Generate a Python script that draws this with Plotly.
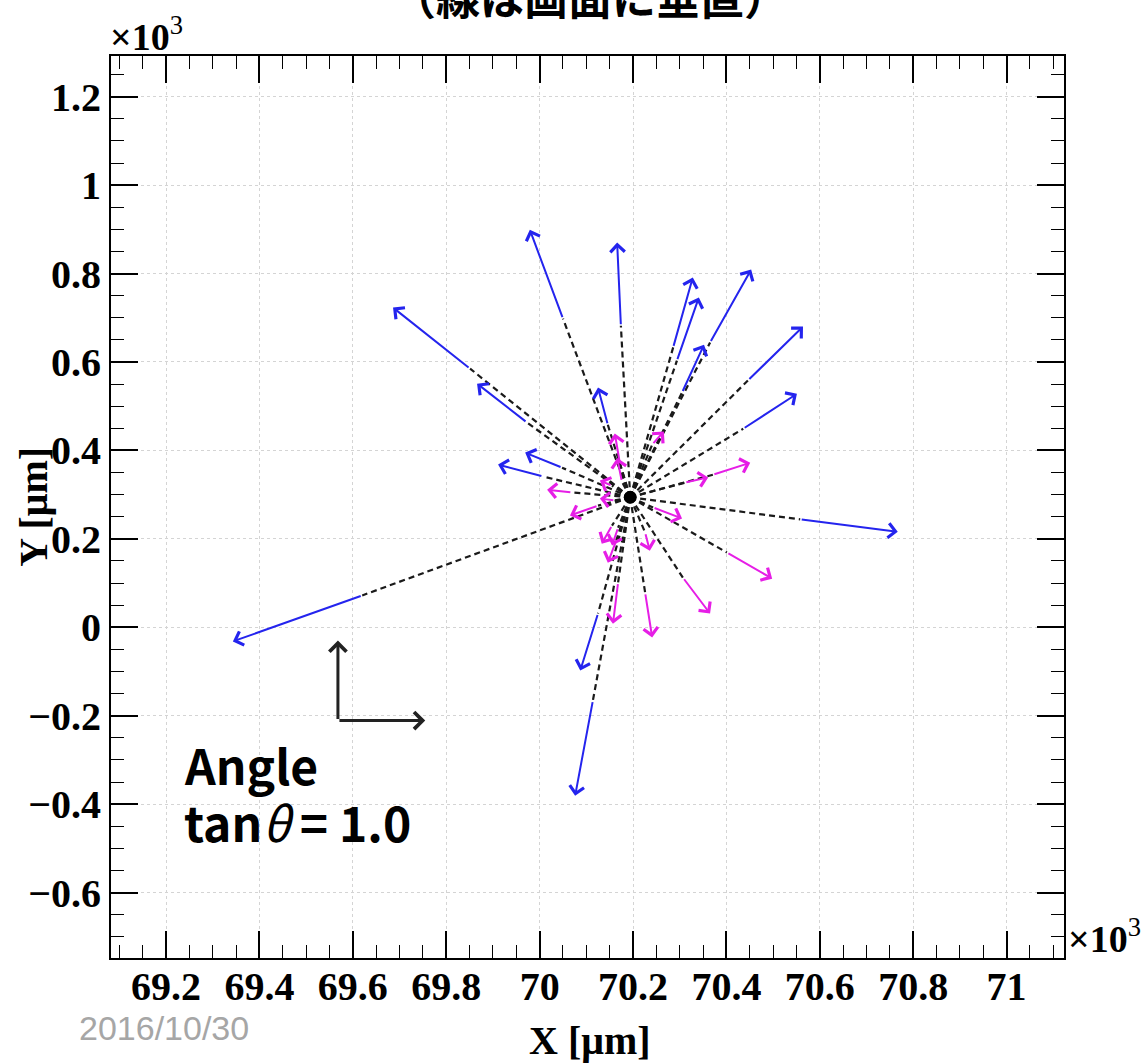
import plotly.graph_objects as go

# ---------------- data (units of 10^3 um) ----------------
vertex_x = 70.194
vertex_y = 0.294

# blue tracks: start of solid segment -> arrow tip
blue_x0 = [69.851, 69.973, 70.050, 70.174, 70.146, 70.286, 70.294, 70.305, 70.365,
           70.446, 70.436, 70.007, 70.048, 69.620, 70.125, 70.114, 70.558]
blue_y0 = [0.585, 0.463, 0.698, 0.682, 0.458, 0.633, 0.603, 0.531, 0.644,
           0.558, 0.449, 0.341, 0.361, 0.072, 0.031, -0.166, 0.244]
blue_x1 = [69.686, 69.866, 69.979, 70.166, 70.125, 70.328, 70.341, 70.352, 70.453,
           70.564, 70.551, 69.911, 69.969, 69.343, 70.087, 70.076, 70.767]
blue_y1 = [0.723, 0.551, 0.899, 0.870, 0.542, 0.791, 0.746, 0.639, 0.809,
           0.680, 0.528, 0.368, 0.395, -0.032, -0.098, -0.381, 0.216]

# magenta tracks
mag_x0 = [70.172, 70.176, 70.241, 70.311, 70.371, 70.069, 70.125, 70.155, 70.161,
          70.155, 70.168, 70.164, 70.168, 70.226, 70.226, 70.243, 70.307, 70.401]
mag_y0 = [0.370, 0.330, 0.413, 0.327, 0.345, 0.305, 0.275, 0.320, 0.287,
          0.230, 0.225, 0.196, 0.101, 0.078, 0.214, 0.271, 0.112, 0.169]
mag_x1 = [70.161, 70.166, 70.266, 70.361, 70.451, 70.016, 70.065, 70.129, 70.129,
          70.133, 70.155, 70.146, 70.157, 70.241, 70.236, 70.305, 70.365, 70.498]
mag_y1 = [0.438, 0.383, 0.443, 0.339, 0.372, 0.311, 0.253, 0.332, 0.291,
          0.189, 0.185, 0.146, 0.008, -0.023, 0.173, 0.246, 0.031, 0.110]

# reference axes (L-shaped arrows)
ref_x = 69.568
ref_y = -0.211
ref_up_y = -0.030
ref_right_x = 69.755

x_tickvals = [69.2, 69.4, 69.6, 69.8, 70.0, 70.2, 70.4, 70.6, 70.8, 71.0]
x_ticktext = ["69.2", "69.4", "69.6", "69.8", "70", "70.2", "70.4", "70.6", "70.8", "71"]
y_tickvals = [-0.6, -0.4, -0.2, 0.0, 0.2, 0.4, 0.6, 0.8, 1.0, 1.2]
y_ticktext = ["\u22120.6", "\u22120.4", "\u22120.2", "0", "0.2", "0.4", "0.6", "0.8", "1", "1.2"]

x_range = [69.082, 71.123]
y_range = [-0.748, 1.292]

BLUE = "#2424ee"
MAGENTA = "#e61ee6"

fig = go.Figure()

# dashed lines from vertex to the start of each track
dx, dy = [], []
for x0, y0 in list(zip(blue_x0, blue_y0)) + list(zip(mag_x0, mag_y0)):
    dx += [vertex_x, x0, None]
    dy += [vertex_y, y0, None]
fig.add_trace(go.Scatter(x=dx, y=dy, mode="lines",
                         line=dict(color="#1a1a1a", width=2.2, dash="6px,4px"),
                         hoverinfo="skip", showlegend=False))

# vertex
fig.add_trace(go.Scatter(x=[vertex_x], y=[vertex_y], mode="markers",
                         marker=dict(color="black", size=13),
                         hoverinfo="skip", showlegend=False))

annotations = []
def arrow(x0, y0, x1, y1, color, width=2.0, size=1.4):
    annotations.append(dict(x=x1, y=y1, ax=x0, ay=y0, xref="x", yref="y",
                            axref="x", ayref="y", text="", showarrow=True,
                            arrowhead=4, arrowsize=size, arrowwidth=width,
                            arrowcolor=color, standoff=0, startstandoff=0))

for x0, y0, x1, y1 in zip(blue_x0, blue_y0, blue_x1, blue_y1):
    arrow(x0, y0, x1, y1, BLUE)
for x0, y0, x1, y1 in zip(mag_x0, mag_y0, mag_x1, mag_y1):
    arrow(x0, y0, x1, y1, MAGENTA)

arrow(ref_x, ref_y, ref_x, ref_up_y, "#222222", width=3, size=1.1)
arrow(ref_x, ref_y, ref_right_x, ref_y, "#222222", width=3, size=1.1)

serif = "Liberation Serif, Times New Roman, serif"
cjk = "Noto Sans CJK JP, Noto Sans, sans-serif"

# title (cropped at top of page)
annotations.append(dict(text="<b>（線は画面に垂直）</b>", xref="paper", yref="paper",
                        x=0.503, y=1.066, xanchor="center", yanchor="middle",
                        showarrow=False, font=dict(family=cjk, size=44, color="black")))
# exponent labels
annotations.append(dict(text="<b>×10</b><sup>3</sup>", xref="paper", yref="paper",
                        x=-0.003, y=0.996, xanchor="left", yanchor="bottom",
                        showarrow=False, font=dict(family=serif, size=38, color="black")))
annotations.append(dict(text="<b>×10</b><sup>3</sup>", xref="paper", yref="paper",
                        x=1.002, y=-0.004, xanchor="left", yanchor="bottom",
                        showarrow=False, font=dict(family=serif, size=38, color="black")))
# axis titles
annotations.append(dict(text="<b>X [μm]</b>", xref="paper", yref="paper",
                        x=0.503, y=-0.092, xanchor="center", yanchor="middle",
                        showarrow=False, font=dict(family=serif, size=40, color="black")))
annotations.append(dict(text="<b>Y [μm]</b>", xref="paper", yref="paper",
                        x=-0.082, y=0.5, xanchor="center", yanchor="middle", textangle=-90,
                        showarrow=False, font=dict(family=serif, size=40, color="black")))
# Angle label
annotations.append(dict(text="<b>Angle</b>", xref="paper", yref="paper",
                        x=0.075, y=0.215, xanchor="left", yanchor="middle",
                        showarrow=False, font=dict(family=cjk, size=48, color="black")))
annotations.append(dict(text="<b>tan</b><i>θ</i><b>\u2009=\u00a01.0</b>", xref="paper", yref="paper",
                        x=0.075, y=0.152, xanchor="left", yanchor="middle",
                        showarrow=False, font=dict(family=cjk, size=48, color="black")))
# date
annotations.append(dict(text="2016/10/30", xref="paper", yref="paper",
                        x=-0.036, y=-0.078, xanchor="left", yanchor="middle",
                        showarrow=False, font=dict(family="Liberation Sans, sans-serif",
                                                   size=34, color="#a6a6a6")))

axis_common = dict(showline=True, linecolor="black", linewidth=2, mirror="allticks",
                   ticks="inside", ticklen=27, tickwidth=1.5, tickcolor="black",
                   showgrid=True, gridcolor="#d4d4d4", griddash="dot", gridwidth=1,
                   zeroline=False,
                   tickfont=dict(family=serif, size=40, color="black"))

fig.update_layout(
    width=1147, height=1064,
    margin=dict(l=111, r=83, t=56, b=106),
    paper_bgcolor="white", plot_bgcolor="white",
    showlegend=False,
    annotations=annotations,
    xaxis=dict(range=x_range, tickvals=x_tickvals,
               ticktext=["<b>%s</b>" % t for t in x_ticktext],
               ticklabelstandoff=-8,
               minor=dict(ticks="inside", ticklen=13, tickwidth=1.2, tickcolor="black",
                          dtick=0.05, tick0=69.2, showgrid=False),
               **axis_common),
    yaxis=dict(range=y_range, tickvals=y_tickvals,
               ticktext=["<b>%s</b>" % t for t in y_ticktext],
               minor=dict(ticks="inside", ticklen=13, tickwidth=1.2, tickcolor="black",
                          dtick=0.05, tick0=0, showgrid=False),
               **axis_common),
)

fig.write_html("out.html")
